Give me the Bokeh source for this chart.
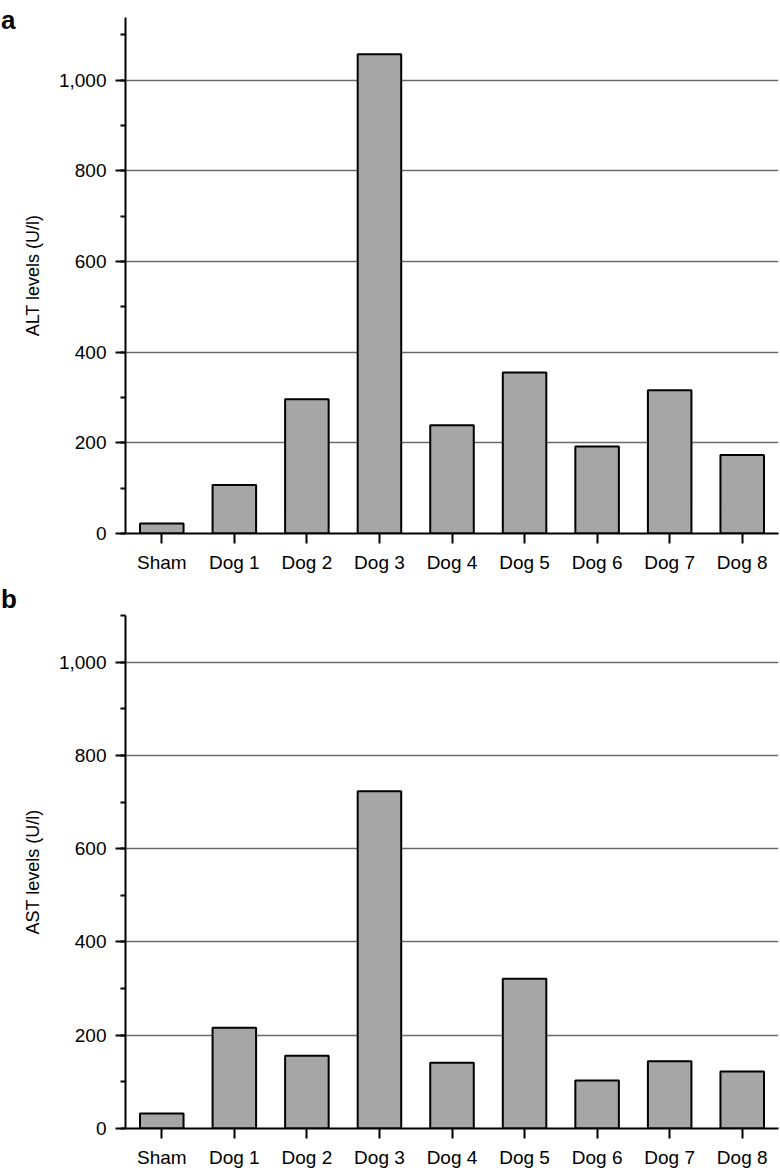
from bokeh.plotting import figure
from bokeh.layouts import column, row
from bokeh.models import SingleIntervalTicker, NumeralTickFormatter, ColumnDataSource, Div
from bokeh.embed import file_html
from bokeh.resources import INLINE

categories = ["Sham", "Dog 1", "Dog 2", "Dog 3", "Dog 4", "Dog 5", "Dog 6", "Dog 7", "Dog 8"]
alt_values = [22, 107, 296, 1057, 239, 355, 192, 316, 173]
ast_values = [32, 216, 156, 723, 141, 321, 103, 144, 122]
panel_letters = ["a", "b"]

FONT = "Liberation Sans"
LETTER_W = 18


def make_letter(letter, height, pad_top):
    return Div(text=letter, width=LETTER_W, height=height,
               styles={"font-family": FONT, "font-size": "26px", "font-weight": "bold",
                       "line-height": "26px", "color": "black",
                       "padding-top": f"{pad_top}px", "padding-left": "1px",
                       "box-sizing": "border-box", "margin": "0px"})


def make_panel(vals, ylabel, height, top, bottom, yend):
    src = ColumnDataSource(dict(cat=categories, val=vals))
    p = figure(x_range=categories, y_range=(0, yend), width=780 - LETTER_W, height=height,
               output_backend="svg", toolbar_location=None,
               min_border_left=125 - LETTER_W, min_border_right=2,
               min_border_top=top, min_border_bottom=bottom)
    p.x_range.range_padding = 0
    p.vbar(x="cat", top="val", width=0.6, source=src,
           fill_color="#a6a6a6", line_color="black", line_width=2)
    p.outline_line_color = None
    p.xgrid.grid_line_color = None
    p.ygrid.grid_line_color = "#6b6b6b"
    p.ygrid.grid_line_width = 1.5
    p.yaxis.ticker = SingleIntervalTicker(interval=200, num_minor_ticks=2)
    p.yaxis.formatter = NumeralTickFormatter(format="0,0")
    for ax in (p.xaxis[0], p.yaxis[0]):
        ax.axis_line_width = 2
        ax.axis_line_color = "black"
        ax.major_tick_line_width = 2
        ax.major_tick_line_color = "black"
        ax.major_tick_in = 0
        ax.major_tick_out = 10
        ax.major_label_text_font = FONT
        ax.major_label_text_font_size = "19px"
        ax.major_label_text_color = "black"
    p.yaxis.minor_tick_line_width = 2
    p.yaxis.minor_tick_line_color = "black"
    p.yaxis.minor_tick_in = 0
    p.yaxis.minor_tick_out = 5
    p.yaxis.major_label_standoff = 9
    p.xaxis.major_label_standoff = 8
    p.yaxis.axis_label = ylabel
    p.yaxis.axis_label_text_font = FONT
    p.yaxis.axis_label_text_font_size = "18px"
    p.yaxis.axis_label_text_font_style = "normal"
    p.yaxis.axis_label_text_color = "black"
    p.yaxis.axis_label_standoff = 13
    return p


pa = make_panel(alt_values, "ALT levels (U/l)", 580, 17, 47, 1138)
pb = make_panel(ast_values, "AST levels (U/l)", 590, 35, 41, 1100)
la = make_letter(panel_letters[0], 580, 7)
lb = make_letter(panel_letters[1], 590, 6)

layout = column(row(la, pa), row(lb, pb))
open("out.html", "w").write(file_html(layout, INLINE))
